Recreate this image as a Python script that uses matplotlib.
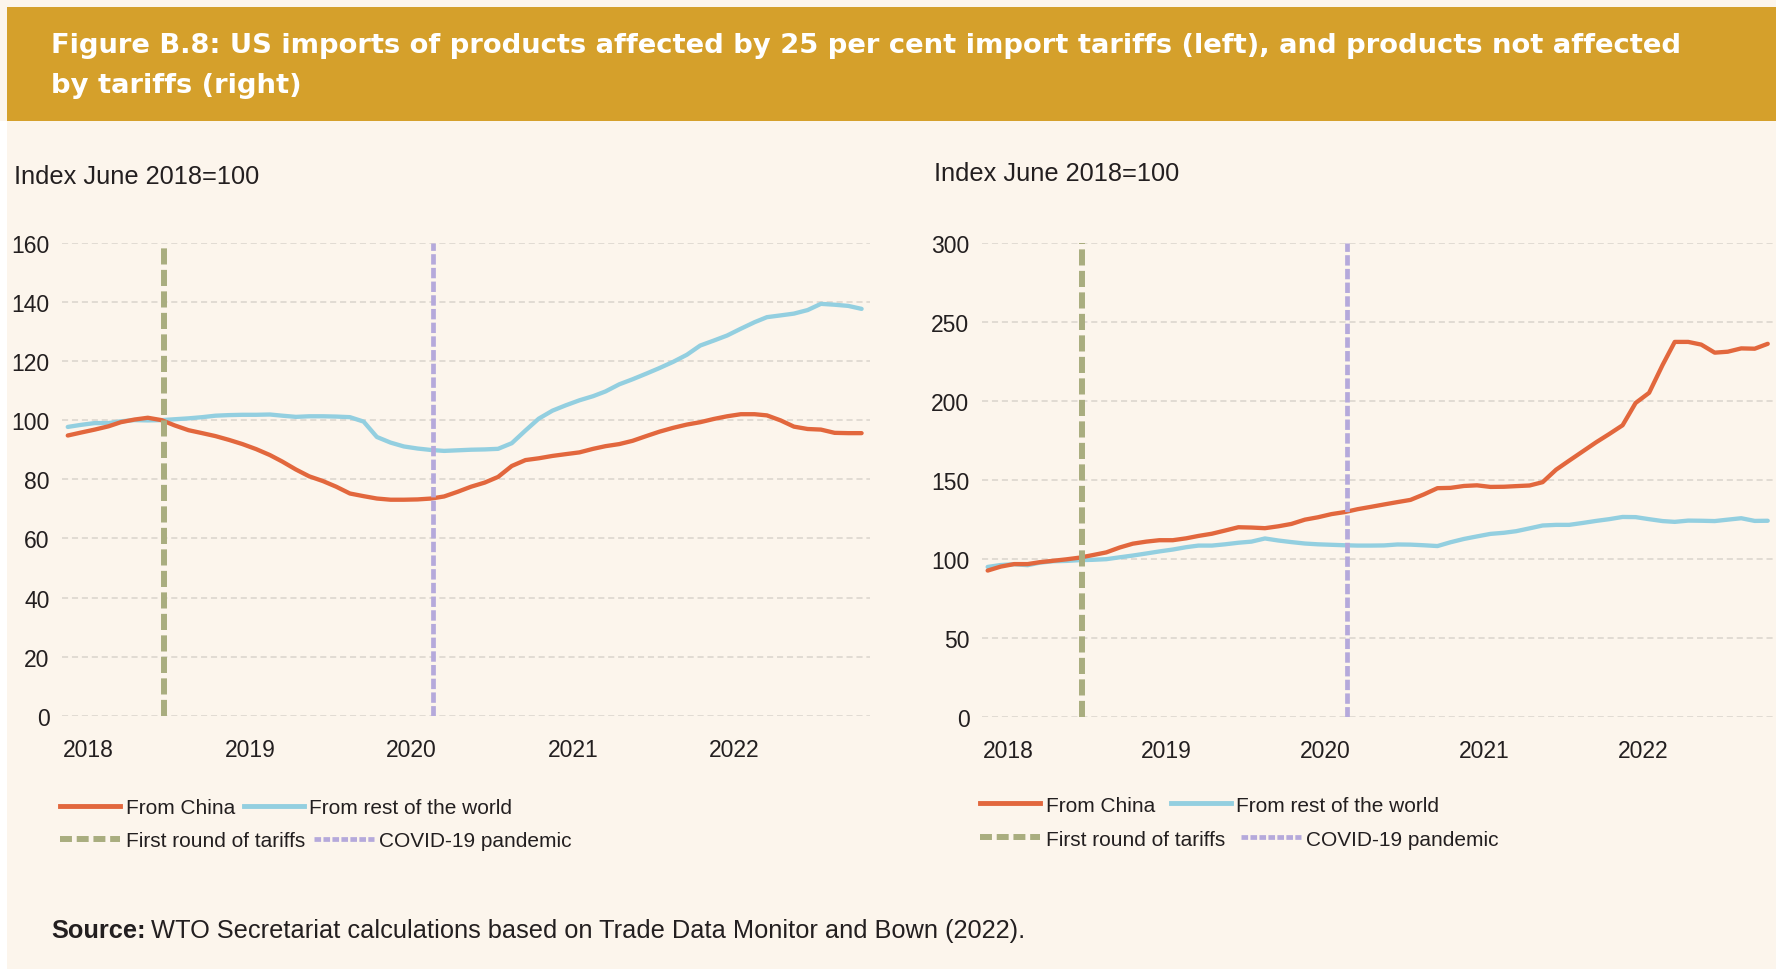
import pandas as pd
import matplotlib
matplotlib.use("Agg")
import matplotlib.pyplot as plt
from matplotlib.lines import Line2D
from matplotlib.patches import Rectangle

plt.rcParams['font.family'] = ['Liberation Sans', 'DejaVu Sans']

# monthly values, Nov 2017 - Oct 2022 (plotted mid-month)
months = pd.date_range('2017-11-01', periods=60, freq='MS') + pd.Timedelta(days=14)

# left panel: products affected by 25 per cent tariffs
tariff_china = [94.8, 95.8, 96.8, 97.9, 99.3, 100.2, 100.8, 100.0, 98.2, 96.6,
                95.6, 94.6, 93.3, 91.9, 90.2, 88.2, 86.0, 83.3, 81.0, 79.4,
                77.5, 75.2, 74.3, 73.5, 73.1, 73.1, 73.2, 73.5, 74.2, 75.8,
                77.5, 78.9, 80.8, 84.5, 86.5, 87.1, 87.9, 88.5, 89.1, 90.3,
                91.2, 91.9, 93.0, 94.6, 96.1, 97.4, 98.5, 99.3, 100.4, 101.3,
                102.0, 102.0, 101.6, 99.9, 97.8, 97.0, 96.8, 95.7, 95.6, 95.6]
tariff_row = [97.7, 98.4, 99.0, 99.0, 99.6, 100.0, 99.9, 100.0, 100.3, 100.6,
              101.0, 101.5, 101.7, 101.8, 101.8, 101.9, 101.5, 101.1, 101.3, 101.3,
              101.2, 101.0, 99.5, 94.3, 92.4, 91.1, 90.4, 89.9, 89.6, 89.8,
              90.0, 90.1, 90.3, 92.2, 96.5, 100.5, 103.2, 105.0, 106.7, 108.1,
              109.7, 112.1, 113.8, 115.7, 117.6, 119.7, 122.1, 125.2, 126.9, 128.6,
              130.9, 133.1, 134.8, 135.4, 136.0, 137.2, 139.3, 139.0, 138.6, 137.6]

# right panel: products not affected by tariffs
free_china = [92.6, 95.1, 96.7, 96.7, 97.9, 98.8, 99.7, 100.8, 102.4, 104.1,
              107.2, 109.6, 110.9, 111.8, 111.8, 113.0, 114.5, 115.9, 117.9, 120.0,
              119.8, 119.4, 120.6, 122.1, 124.8, 126.3, 128.3, 129.6, 131.4, 132.9,
              134.4, 135.9, 137.3, 140.8, 144.7, 144.9, 146.1, 146.5, 145.5, 145.6,
              146.0, 146.4, 148.5, 156.4, 162.1, 167.9, 173.7, 178.9, 184.5, 198.6,
              205.0, 222.6, 237.2, 237.2, 235.5, 230.4, 231.0, 233.1, 232.9, 236.0]
free_row = [94.9, 96.1, 96.6, 96.0, 97.6, 98.5, 98.7, 99.2, 99.4, 99.8,
            101.0, 102.1, 103.4, 104.7, 105.9, 107.4, 108.4, 108.4, 109.2, 110.2,
            110.9, 112.9, 111.6, 110.6, 109.7, 109.2, 108.9, 108.6, 108.4, 108.4,
            108.5, 109.1, 109.0, 108.6, 108.1, 110.5, 112.6, 114.2, 115.8, 116.5,
            117.5, 119.3, 121.1, 121.5, 121.5, 122.7, 124.0, 125.1, 126.5, 126.4,
            125.1, 123.9, 123.4, 124.2, 124.1, 123.9, 124.8, 125.7, 124.0, 124.1]

tariff_date = pd.Timestamp('2018-06-20')
covid_date = pd.Timestamp('2020-02-20')
year_ticks = [pd.Timestamp(f'{y}-01-01') for y in range(2018, 2023)]
year_labels = [str(y) for y in range(2018, 2023)]

C_CHINA = '#E2673D'
C_ROW = '#93CFE0'
C_TARIFF = '#A9AD7F'
C_COVID = '#B5A9DB'
C_BG = '#FCF5EC'
C_BAND = '#D5A02B'
C_TEXT = '#231F20'

W, H = 1776, 970
fig = plt.figure(figsize=(W / 100, H / 100), dpi=100, facecolor=C_BG)

# left white strip and title band
fig.patches.append(Rectangle((0, 0), 7 / W, 1 - 122 / H, transform=fig.transFigure,
                             facecolor='white', edgecolor='none', zorder=0))
fig.patches.append(Rectangle((7 / W, 1 - 122 / H), 1, 114 / H, transform=fig.transFigure,
                             facecolor=C_BAND, edgecolor='none', zorder=0))
title_kw = dict(color='white', fontsize=19.75, fontweight='bold', va='baseline',
                ha='left', family=['DejaVu Sans'])
fig.text(51 / W, 1 - 53 / H,
         'Figure B.8: US imports of products affected by 25 per cent import tariffs (left), and products not affected',
         **title_kw)
fig.text(51 / W, 1 - 93 / H, 'by tariffs (right)', **title_kw)


def draw_panel(rect, china, row, ymax, ystep, label_xy, legend_x, legend_y, colsp):
    ax = fig.add_axes(rect)
    ax.set_facecolor('none')
    ax.plot(months, row, color=C_ROW, lw=3.1, solid_capstyle='round', zorder=3)
    ax.plot(months, china, color=C_CHINA, lw=3.1, solid_capstyle='round', zorder=4)
    ax.axvline(tariff_date, color=C_TARIFF, lw=4.3, dashes=(2.7, 0.9), zorder=5)
    ax.axvline(covid_date, color=C_COVID, lw=3.4, dashes=(2.2, 0.7), zorder=5)
    ax.set_ylim(0, ymax)
    ax.set_yticks(range(0, ymax + 1, ystep))
    ax.set_xlim(pd.Timestamp('2017-11-02'), pd.Timestamp('2022-11-03'))
    ax.set_xticks(year_ticks)
    ax.set_xticklabels(year_labels)
    ax.grid(axis='y', color='#D9D4CC', lw=1.1, dashes=(4, 2.5), zorder=1)
    ax.grid(axis='x', visible=False)
    for s in ax.spines.values():
        s.set_visible(False)
    ax.tick_params(axis='y', length=0, pad=9, labelsize=16.5, labelcolor=C_TEXT)
    ax.tick_params(axis='x', length=0, pad=16, labelsize=16.5, labelcolor=C_TEXT)
    fig.text(label_xy[0] / W, 1 - label_xy[1] / H, 'Index June 2018=100',
             fontsize=18.3, color=C_TEXT, va='baseline', ha='left')

    kw = dict(frameon=False, fontsize=15, handlelength=2.9, handletextpad=0.25,
              columnspacing=colsp, borderpad=0, borderaxespad=0, ncol=2,
              loc='center left', labelcolor=C_TEXT)
    h1 = [Line2D([], [], color=C_CHINA, lw=3.5), Line2D([], [], color=C_ROW, lw=3.5)]
    h2 = [Line2D([], [], color=C_TARIFF, lw=4.3, dashes=(2.0, 0.8)),
          Line2D([], [], color=C_COVID, lw=3.4, dashes=(1.4, 0.5))]
    fig.legend(h1, ['From China', 'From rest of the world'],
               bbox_to_anchor=(legend_x / W, 1 - legend_y[0] / H), **kw)
    fig.legend(h2, ['First round of tariffs', 'COVID-19 pandemic'],
               bbox_to_anchor=(legend_x / W, 1 - legend_y[1] / H), **kw)
    return ax


draw_panel([62 / W, 1 - 717 / H, 808 / W, 473.4 / H], tariff_china, tariff_row,
           160, 20, (14, 184.5), 60, (809, 842), 0.42)
draw_panel([982 / W, 1 - 718 / H, 794 / W, 474.4 / H], free_china, free_row,
           300, 50, (934, 181), 980, (806, 840), 0.75)

# source line with bold lead-in
src = fig.text(51 / W, 1 - 938 / H, 'Source:', fontsize=18.3, fontweight='bold',
               color=C_TEXT, va='baseline', ha='left')
fig.canvas.draw()
bb = src.get_window_extent(fig.canvas.get_renderer())
fig.text((bb.x1 + 5) / W, 1 - 938 / H,
         'WTO Secretariat calculations based on Trade Data Monitor and Bown (2022).',
         fontsize=18.3, color=C_TEXT, va='baseline', ha='left')

fig.savefig('out.png', dpi=100, facecolor=C_BG)
